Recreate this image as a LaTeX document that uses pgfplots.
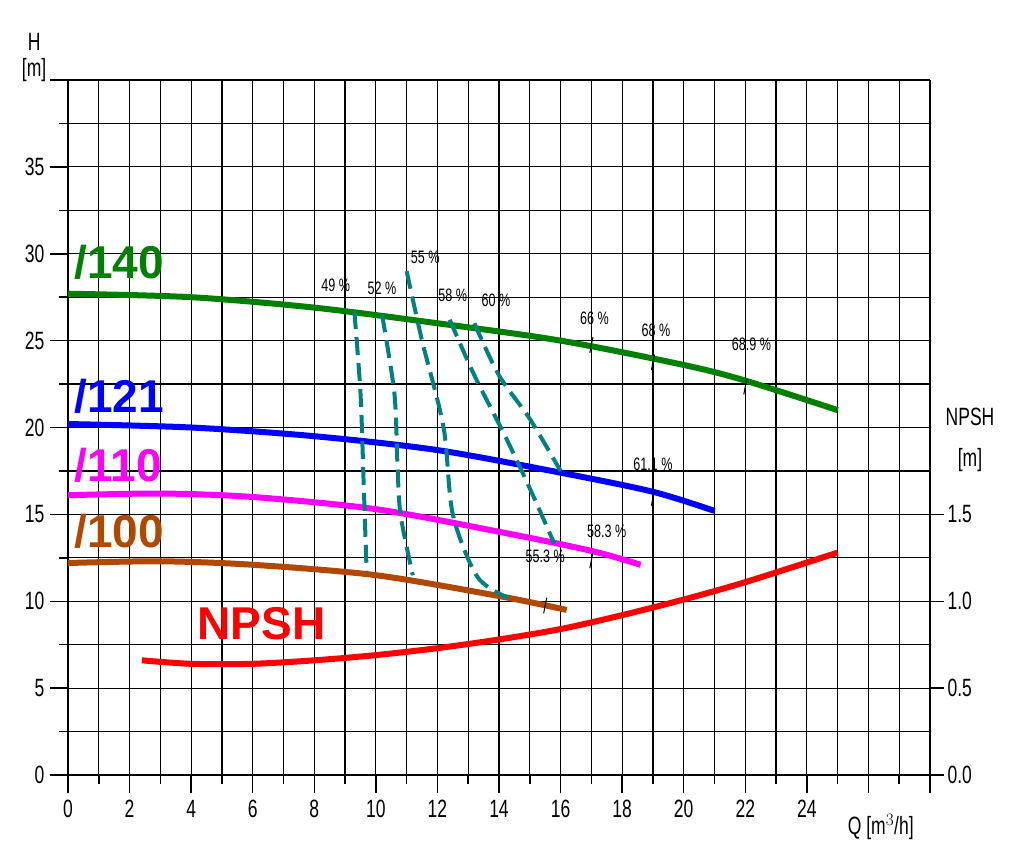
\documentclass[border=0pt]{standalone}
\usepackage{pgfplots}
\pgfplotsset{compat=1.18}
\usepackage{fontspec}
\setmainfont{Liberation Sans}[FakeStretch=0.7]
\newfontfamily\bigf{Liberation Sans}
\definecolor{cgreen}{RGB}{0,128,0}
\definecolor{cblue}{RGB}{0,0,255}
\definecolor{cmag}{RGB}{255,0,255}
\definecolor{cbrown}{RGB}{176,72,0}
\definecolor{cred}{RGB}{255,0,0}
\definecolor{cteal}{RGB}{0,128,128}
\begin{document}
\begin{tikzpicture}
\path[use as bounding box] (-68pt,-80pt) rectangle (953pt,775pt);
\begin{axis}[at={(0,0)},anchor=south west,scale only axis,width=862pt,height=695pt,
 xmin=0,xmax=28,ymin=0,ymax=40,clip=false,
 /pgf/number format/assume math mode=true,
 font=\fontsize{25}{28}\selectfont,
 xtick={0,2,...,28},xticklabels={0,2,4,6,8,10,12,14,16,18,20,22,24,,},
 minor x tick num=1,
 ytick={0,5,...,40},yticklabels={0,5,10,15,20,25,30,35,},
 minor y tick num=1,
 grid=both, major grid style={black,line width=1.2pt}, minor grid style={black,line width=1.2pt},
 tick align=outside, major tick length=18pt, minor tick length=9pt,
 every tick/.style={black,line width=1.5pt},
 axis line style={line width=2pt},
 axis y line*=left, axis x line*=bottom,
 extra x ticks={0,4,8,12,16,20,24,28},extra x tick labels={},
 extra x tick style={grid style={black,line width=2.5pt}},
 xticklabel style={yshift=-4pt}, yticklabel style={xshift=-2pt},
]
\addplot[black,line width=2pt] coordinates {(0,40)(28,40)};
\addplot[cgreen,line width=6pt,smooth] coordinates {(0,27.7)(4,27.5)(8,26.9)(12,26)(16,25)(20,23.6)(22,22.7)(25,21)};
\addplot[cblue,line width=6pt,smooth] coordinates {(0,20.2)(4,20)(8,19.5)(12,18.7)(16,17.4)(19,16.3)(21,15.2)};
\addplot[cmag,line width=6pt,smooth] coordinates {(0,16.1)(3,16.2)(6,16)(10,15.3)(14,14)(17,12.9)(18.6,12.1)};
\addplot[cbrown,line width=6pt,smooth] coordinates {(0,12.2)(3,12.3)(6,12.1)(10,11.5)(14,10.3)(16.2,9.5)};
\addplot[cred,line width=6pt,smooth] coordinates {(2.4,6.6)(4,6.4)(6,6.4)(8,6.6)(10,6.9)(12,7.3)(14,7.8)(16,8.4)(18,9.2)(20,10.1)(22,11.1)(25,12.8)};
\addplot[cteal,line width=4pt,dash pattern=on 18pt off 8pt,smooth] coordinates {(9.3,26.7)(9.5,22)(9.6,17)(9.7,11.7)};
\addplot[cteal,line width=4pt,dash pattern=on 18pt off 8pt,smooth] coordinates {(10.2,26.5)(10.6,22)(10.7,18)(10.8,15)(11.2,11.5)};
\addplot[cteal,line width=4pt,dash pattern=on 18pt off 8pt,smooth] coordinates {(11,29)(11.5,25)(12.2,20)(12.5,15)(13.3,11.4)(14.3,10.2)};
\addplot[cteal,line width=4pt,dash pattern=on 18pt off 8pt,smooth] coordinates {(12.4,26.2)(13.2,23)(14.2,19.5)(15,16.5)(15.8,13.3)};
\addplot[cteal,line width=4pt,dash pattern=on 18pt off 8pt,smooth] coordinates {(13.2,26)(14,23)(15,20.5)(16,17.5)};
\addplot[black,line width=1pt] coordinates {(16.95,24.3)(17.05,25.2)};
\addplot[black,line width=1pt] coordinates {(18.95,23.3)(19.05,24.2)};
\addplot[black,line width=1pt] coordinates {(21.95,21.9)(22.05,22.8)};
\addplot[black,line width=1pt] coordinates {(18.95,15.5)(19.05,16.4)};
\addplot[black,line width=1pt] coordinates {(16.95,11.9)(17.05,12.8)};
\addplot[black,line width=1pt] coordinates {(15.45,9.3)(15.55,10.2)};
\begin{scope}[font=\fontsize{18}{20}\selectfont]
\node at (axis cs:8.7,28.2) {49 \%};
\node at (axis cs:10.2,28.0) {52 \%};
\node at (axis cs:11.6,29.8) {55 \%};
\node at (axis cs:12.5,27.6) {58 \%};
\node at (axis cs:13.9,27.3) {60 \%};
\node at (axis cs:17.1,26.3) {66 \%};
\node at (axis cs:19.1,25.6) {68 \%};
\node at (axis cs:22.2,24.8) {68.9 \%};
\node at (axis cs:19.0,17.9) {61.1 \%};
\node at (axis cs:17.5,14.0) {58.3 \%};
\node at (axis cs:15.5,12.6) {55.3 \%};
\end{scope}
\begin{scope}[font=\bigf\bfseries\fontsize{46}{50}\selectfont]
\node[cgreen,anchor=west] at (axis cs:0.1,29.5) {/140};
\node[cblue,anchor=west] at (axis cs:0.1,21.8) {/121};
\node[cmag,anchor=west] at (axis cs:0.1,17.8) {/110};
\node[cbrown,anchor=west] at (axis cs:0.1,14.0) {/100};
\node[cred,anchor=west] at (axis cs:4.1,8.7) {NPSH};
\end{scope}
\node at (axis cs:-1.1,42.2) {H};
\node at (axis cs:-1.1,40.6) {[m]};
\node at (axis cs:26.4,-3.0) {Q [m$^3$/h]};
\node at (axis cs:29.3,20.6) {NPSH};
\node at (axis cs:29.3,18.1) {[m]};
\end{axis}
\begin{axis}[at={(0,0)},anchor=south west,scale only axis,width=862pt,height=695pt,
 xmin=0,xmax=28,ymin=0,ymax=4,hide x axis,axis y line*=right,
 /pgf/number format/assume math mode=true,
 font=\fontsize{25}{28}\selectfont,
 ytick={0,0.5,1,1.5},yticklabels={0.0,0.5,1.0,1.5},
 tick align=outside, major tick length=14pt,
 every tick/.style={black,line width=1.5pt},
 axis line style={line width=2pt},
]
\addplot[draw=none] coordinates {(0,0)};
\end{axis}
\end{tikzpicture}
\end{document}
